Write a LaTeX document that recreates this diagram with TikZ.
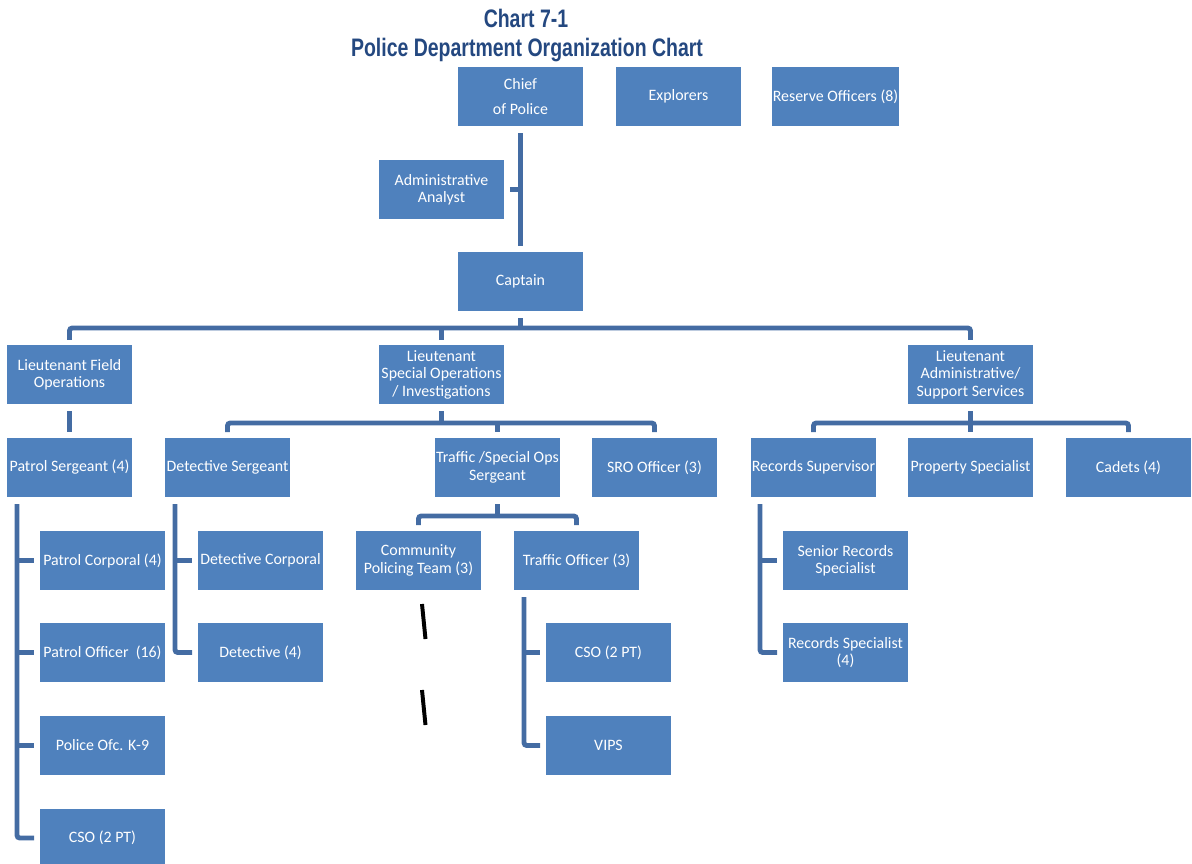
\documentclass[tikz,border=0pt]{standalone}
\usepackage{fontspec}
\usepackage{graphicx}
\setmainfont{Carlito}
\newfontfamily\titlefont{Liberation Sans}

\definecolor{boxblue}{RGB}{79,129,189}
\definecolor{linkblue}{RGB}{68,108,163}
\definecolor{titleblue}{RGB}{36,72,128}

\begin{document}
\begin{tikzpicture}[x=0.025cm,y=-0.025cm,
  unit/.style={rectangle,fill=boxblue,text=white,minimum width=3.125cm,minimum height=1.475cm,inner sep=0.5pt,align=center,font=\fontsize{11.3}{12.4}\selectfont},
  link/.style={draw=linkblue,line width=3.5pt},
  bus/.style={link,rounded corners=2pt},
  gapline/.style={black,line width=2.8pt},
  heading/.style={font=\titlefont\bfseries\fontsize{18}{21}\selectfont,text=titleblue}]
\useasboundingbox (0,0) rectangle (1192,863);

% title
\node[heading] (title1) at (526,18) {\scalebox{0.77}[1]{Chart 7-1}};
\node[heading] (title2) at (527,50) {\scalebox{0.77}[1]{Police Department Organization Chart}};

% top
\node[unit] (chief) at (520.5,96.5) {Chief\\[5pt]of Police};
\node[unit] (explorers) at (678.5,96.5) {Explorers};
\node[unit] (reserve) at (835.5,96.5) {Reserve Officers (8)};
\node[unit] (admin) at (441.5,189.5) {Administrative\\Analyst};
\node[unit] (captain) at (520.5,281.5) {Captain};

% lieutenants
\node[unit] (ltfield) at (69.5,374.5) {Lieutenant Field\\Operations};
\node[unit] (ltspec) at (441.5,374.5) {Lieutenant\\Special Operations\\/ Investigations};
\node[unit] (ltadmin) at (970.5,374.5) {Lieutenant\\Administrative/\\Support Services};

% sergeants and so on
\node[unit] (patsgt) at (69.5,467.5) {Patrol Sergeant (4)};
\node[unit] (detsgt) at (227.5,467.5) {Detective Sergeant};
\node[unit] (trafsgt) at (497.5,467.5) {Traffic /Special Ops\\Sergeant};
\node[unit] (sro) at (654.5,467.5) {SRO Officer (3)};
\node[unit] (recsup) at (813.5,467.5) {Records Supervisor};
\node[unit] (property) at (970.5,467.5) {Property Specialist};
\node[unit] (cadets) at (1128.5,467.5) {Cadets (4)};

\node[unit] (patcpl) at (102.5,560.5) {Patrol Corporal (4)};
\node[unit] (patoff) at (102.5,652.5) {Patrol Officer~~(16)};
\node[unit] (k9) at (102.5,745.5) {Police Ofc. K-9};
\node[unit] (cso1) at (102.5,838) {CSO (2 PT)};
\node[unit] (detcpl) at (260.5,560.5) {Detective Corporal};
\node[unit] (det) at (260.5,652.5) {Detective (4)};
\node[unit] (cpt) at (418.5,560.5) {Community\\Policing Team (3)};
\node[unit] (trafoff) at (576.5,560.5) {Traffic Officer (3)};
\node[unit] (cso2) at (608.5,652.5) {CSO (2 PT)};
\node[unit] (vips) at (608.5,745.5) {VIPS};
\node[unit] (senrec) at (845.5,560.5) {Senior Records\\Specialist};
\node[unit] (recspec) at (845.5,652.5) {Records Specialist\\(4)};

% bus levels and rails
\coordinate (busa) at (0,328);
\coordinate (busb) at (0,423);
\coordinate (busc) at (0,516);
\coordinate (prail) at (17,504);
\coordinate (drail) at (175,504);
\coordinate (trail) at (524,597);
\coordinate (rrail) at (760,504);

\draw[link] ([yshift=-5pt]chief.south) -- ([yshift=4pt]captain.north);
\draw[link] ([xshift=4pt]admin.east) -- (admin.east -| chief.south);

\draw[link] ([yshift=-5pt]captain.south) -- (captain.south |- busa);
\draw[bus] ([yshift=3.5pt]ltfield.north) |- (busa -| ltadmin.north) -- ([yshift=3.5pt]ltadmin.north);
\draw[link] (ltspec.north |- busa) -- ([yshift=3.5pt]ltspec.north);

\draw[link] ([yshift=-5pt]ltfield.south) -- ([yshift=4pt]patsgt.north);

\draw[link] ([yshift=-5pt]ltspec.south) -- (ltspec.south |- busb);
\draw[bus] ([yshift=4pt]detsgt.north) |- (busb -| sro.north) -- ([yshift=4pt]sro.north);
\draw[link] (trafsgt.north |- busb) -- ([yshift=4pt]trafsgt.north);

\draw[link] ([yshift=-5pt]ltadmin.south) -- ([yshift=4pt]property.north);
\draw[bus] ([yshift=4pt]recsup.north) |- (busb -| cadets.north) -- ([yshift=4pt]cadets.north);

\draw[link] ([yshift=-5pt]trafsgt.south) -- (trafsgt.south |- busc);
\draw[bus] ([yshift=4pt]cpt.north) |- (busc -| trafoff.north) -- ([yshift=4pt]trafoff.north);

\draw[bus] (prail) |- ([xshift=-4pt]cso1.west);
\foreach \n in {patcpl,patoff,k9}
  \draw[link] (prail |- \n.west) -- ([xshift=-4pt]\n.west);

\draw[bus] (drail) |- ([xshift=-4pt]det.west);
\draw[link] (drail |- detcpl.west) -- ([xshift=-4pt]detcpl.west);

\draw[bus] (trail) |- ([xshift=-4pt]vips.west);
\draw[link] (trail |- cso2.west) -- ([xshift=-4pt]cso2.west);

\draw[bus] (rrail) |- ([xshift=-4pt]recspec.west);
\draw[link] (rrail |- senrec.west) -- ([xshift=-4pt]senrec.west);

% broken line under community policing
\draw[gapline] (422,604) -- (425.5,639);
\draw[gapline] (422,690) -- (425.5,725);

\end{tikzpicture}
\end{document}
